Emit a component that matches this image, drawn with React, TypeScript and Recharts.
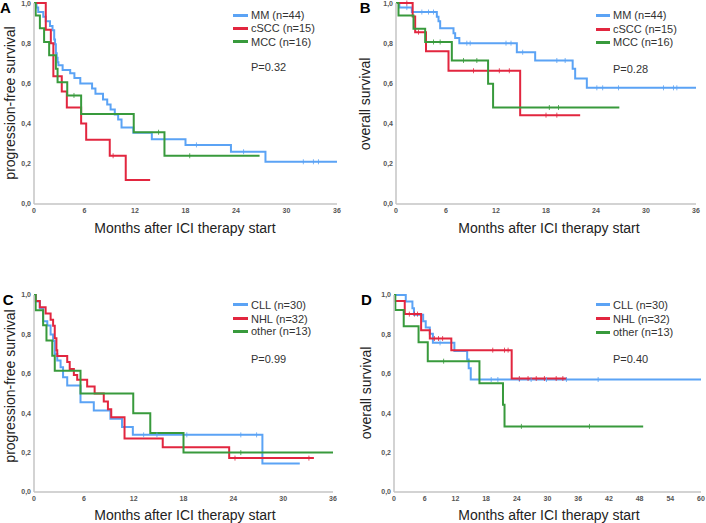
import React from 'react';
import { ComposedChart, Line, Scatter, XAxis, YAxis, Label, Legend } from 'recharts';

const FONT = '"Liberation Sans", Arial, sans-serif';
const BLUE = '#5ba3f5';
const RED = '#e2263f';
const GREEN = '#389a3c';

const xTicks36 = [0, 6, 12, 18, 24, 30, 36];
const xTicks60 = [0, 6, 12, 18, 24, 30, 36, 42, 48, 54, 60];
const yTicks = [0, 0.2, 0.4, 0.6, 0.8, 1.0];

// A: progression-free survival, melanoma / cSCC / MCC
const mmPfsT = [0, 0.3, 0.5, 1.1, 1.4, 1.9, 2.2, 2.4, 2.5, 2.6, 2.7, 2.8, 2.9, 3.4, 4.3, 4.8, 5.5, 6.9, 7.3, 8.2, 8.7, 9.1, 9.6, 10.0, 10.4, 11.8, 14.0, 18.0, 23.4, 27.5, 36];
const mmPfsS = [1, 0.977, 0.955, 0.932, 0.909, 0.886, 0.864, 0.818, 0.795, 0.75, 0.727, 0.705, 0.69, 0.667, 0.65, 0.627, 0.6, 0.575, 0.548, 0.52, 0.495, 0.47, 0.445, 0.42, 0.38, 0.355, 0.322, 0.294, 0.26, 0.21, 0.21];
const mmPfsCens = [19.3, 24.9, 32.0, 33.2, 33.8];
const csccPfsT = [0, 1.4, 2.0, 2.3, 3.3, 3.9, 5.6, 6.2, 9.0, 10.9, 13.8];
const csccPfsS = [1, 0.867, 0.8, 0.635, 0.56, 0.48, 0.4, 0.32, 0.24, 0.12, 0.12];
const csccPfsCens = [9.4];
const mccPfsT = [0, 0.2, 0.7, 1.2, 1.8, 2.6, 2.8, 3.95, 5.6, 11.85, 15.5, 26.8];
const mccPfsS = [1, 0.938, 0.875, 0.806, 0.74, 0.673, 0.606, 0.54, 0.448, 0.357, 0.24, 0.24];
const mccPfsCens = [4.75, 14.8, 18.5];

// B: overall survival, melanoma / cSCC / MCC
const mmOsT = [0, 0.4, 1.9, 4.9, 5.1, 5.3, 6.9, 7.1, 7.6, 14.5, 16.7, 21.2, 21.5, 22.9, 36];
const mmOsS = [1, 0.977, 0.955, 0.932, 0.909, 0.875, 0.85, 0.826, 0.8, 0.755, 0.714, 0.673, 0.625, 0.578, 0.578];
const mmOsCens = [1.3, 3.1, 3.9, 4.5, 8.5, 8.9, 13.2, 13.8, 15.2, 19.3, 20.3, 24.1, 24.8, 26.7, 32.1, 33.3, 33.7];
const csccOsT = [0, 2.0, 2.3, 3.6, 6.3, 14.9, 22.1];
const csccOsS = [1, 0.933, 0.855, 0.76, 0.663, 0.442, 0.442];
const csccOsCens = [1.3, 2.7, 9.3, 12.4, 13.6, 18.0, 19.3];
const mccOsT = [0, 0.3, 2.1, 3.5, 6.7, 11.05, 11.65, 26.8];
const mccOsS = [1, 0.938, 0.872, 0.806, 0.714, 0.598, 0.48, 0.48];
const mccOsCens = [4.5, 5.3, 8.1, 9.7, 18.4, 19.5];

// C: progression-free survival, CLL / NHL / other
const cllPfsT = [0, 0.2, 0.7, 1.1, 1.6, 2.0, 2.3, 2.5, 2.8, 3.2, 3.5, 4.0, 5.6, 7.2, 9.2, 10.6, 11.9, 27.5, 32];
const cllPfsS = [1, 0.967, 0.933, 0.867, 0.845, 0.8, 0.767, 0.7, 0.667, 0.633, 0.583, 0.54, 0.456, 0.414, 0.372, 0.33, 0.29, 0.145, 0.145];
const cllPfsCens = [13.2, 14.8, 18.4, 24.9, 26.8];
const nhlPfsT = [0, 0.2, 0.7, 1.4, 2.0, 2.3, 2.5, 2.7, 2.8, 4.0, 4.3, 4.8, 5.2, 6.4, 7.3, 8.4, 8.9, 9.3, 10.9, 15.5, 23.5, 33.7];
const nhlPfsS = [1, 0.969, 0.938, 0.906, 0.875, 0.844, 0.781, 0.719, 0.69, 0.66, 0.625, 0.594, 0.57, 0.535, 0.5, 0.46, 0.42, 0.38, 0.272, 0.227, 0.172, 0.172];
const nhlPfsCens = [24.2, 33.1];
const otherPfsT = [0, 0.2, 1.1, 1.5, 2.2, 2.5, 5.6, 11.95, 14.0, 18.0, 36];
const otherPfsS = [1, 0.923, 0.846, 0.769, 0.692, 0.615, 0.5, 0.4, 0.3, 0.2, 0.2];
const otherPfsCens = [24.9];

// D: overall survival, CLL / NHL / other
const cllOsT = [0, 2.3, 3.6, 3.9, 5.7, 6.2, 7.0, 7.6, 11.8, 14.3, 14.6, 15.0, 60];
const cllOsS = [1, 0.967, 0.933, 0.9, 0.867, 0.835, 0.803, 0.757, 0.716, 0.672, 0.628, 0.571, 0.571];
const cllOsCens = [9.0, 19.0, 20.3, 24.5, 26.8, 29.8, 33.7, 39.9];
const nhlOsT = [0, 0.1, 2.1, 5.3, 7.0, 11.2, 23.0, 33.8];
const nhlOsS = [1, 0.969, 0.903, 0.821, 0.779, 0.72, 0.576, 0.576];
const nhlOsCens = [3.0, 4.0, 4.6, 7.9, 8.7, 9.5, 19.3, 21.6, 22.3, 24.5, 26.2, 27.8, 29.4, 31.7, 33.0];
const otherOsT = [0, 0.26, 1.9, 4.8, 6.6, 16.7, 21.3, 21.6, 48.7];
const otherOsS = [1, 0.924, 0.841, 0.76, 0.664, 0.552, 0.443, 0.333, 0.333];
const otherOsCens = [9.7, 24.9, 38.2];

interface Curve {
  name: string;
  color: string;
  t: number[];
  s: number[];
  cens: number[];
}

// survival value at a censoring time (last step at or before it)
const survAt = (c: Curve, time: number) => {
  let v = c.s[0];
  c.t.forEach((x, i) => {
    if (x <= time) v = c.s[i];
  });
  return v;
};

const fmtY = (v: number) => v.toFixed(1).replace('.', ',');

interface PanelProps {
  left: number;
  top: number;
  width: number;
  height: number;
  plotLeft: number;
  plotTop: number;
  plotRight: number;
  plotBottom: number;
  xMax: number;
  xTicks: number[];
  curves: Curve[];
  letter: string;
  letterPos: [number, number];
  yTitle: string;
  yTitlePos: [number, number];
  xTitlePos: [number, number];
  legendX: number;
  legendRows: number[];
  legendLineW: number;
  legendTextDx: number;
  pText: string;
  pY: number;
}

const Panel: React.FC<PanelProps> = (p) => {
  const xAxisH = 20;
  const margin = {
    top: p.plotTop,
    right: p.width - p.plotRight,
    bottom: p.height - p.plotBottom - xAxisH,
    left: 0,
  };

  const legendBox = () => (
    <div style={{ position: 'relative', width: 120, height: 110, fontFamily: FONT, fontSize: 11, color: '#333' }}>
      {p.curves.map((c, i) => (
        <React.Fragment key={c.name}>
          <div style={{ position: 'absolute', left: 0, top: p.legendRows[i] - 1.5, width: p.legendLineW, height: 3, background: c.color }} />
          <div style={{ position: 'absolute', left: p.legendTextDx, top: p.legendRows[i] - 7, lineHeight: '14px', whiteSpace: 'nowrap' }}>
            {c.name}
          </div>
        </React.Fragment>
      ))}
      <div style={{ position: 'absolute', left: p.legendTextDx, top: p.pY - 7, lineHeight: '14px', whiteSpace: 'nowrap' }}>
        {p.pText}
      </div>
    </div>
  );

  return (
    <div style={{ position: 'absolute', left: p.left, top: p.top }}>
      <ComposedChart width={p.width} height={p.height} margin={margin}>
        <XAxis
          type="number"
          dataKey="t"
          domain={[0, p.xMax]}
          ticks={p.xTicks}
          interval={0}
          allowDataOverflow
          height={xAxisH}
          axisLine={{ stroke: '#c4c4c4', strokeWidth: 1.5 }}
          tickLine={false}
          tickSize={2}
          tickMargin={2}
          tick={{ fontSize: 7, fontWeight: 700, fill: '#555', fontFamily: FONT }}
        >
          <Label
            content={() => (
              <text x={p.xTitlePos[0]} y={p.xTitlePos[1]} textAnchor="middle" fontSize={14} fill="#222" fontFamily={FONT}>
                Months after ICI therapy start
              </text>
            )}
          />
        </XAxis>
        <YAxis
          type="number"
          domain={[0, 1]}
          ticks={yTicks}
          interval={0}
          width={p.plotLeft}
          axisLine={{ stroke: '#c4c4c4', strokeWidth: 1.5 }}
          tickLine={false}
          tickSize={1}
          tickMargin={2}
          tickFormatter={fmtY}
          tick={{ fontSize: 7, fontWeight: 700, fill: '#555', fontFamily: FONT }}
        >
          <Label
            content={() => (
              <g>
                <text
                  x={p.yTitlePos[0]}
                  y={p.yTitlePos[1]}
                  transform={`rotate(-90, ${p.yTitlePos[0]}, ${p.yTitlePos[1]})`}
                  textAnchor="middle"
                  fontSize={14}
                  fill="#222"
                  fontFamily={FONT}
                >
                  {p.yTitle}
                </text>
                <text x={p.letterPos[0]} y={p.letterPos[1]} fontSize={15} fontWeight={700} fill="#000" fontFamily={FONT}>
                  {p.letter}
                </text>
              </g>
            )}
          />
        </YAxis>
        <Legend
          layout="horizontal"
          verticalAlign="middle"
          align="center"
          content={legendBox}
          wrapperStyle={{ left: p.legendX, top: 0, width: 120, height: 110 }}
        />
        {p.curves.map((c) => (
          <Line
            key={c.name}
            data={c.t.map((x, i) => ({ t: x, s: c.s[i] }))}
            dataKey="s"
            name={c.name}
            type="stepAfter"
            stroke={c.color}
            strokeWidth={2}
            dot={false}
            activeDot={false}
            isAnimationActive={false}
          />
        ))}
        {p.curves.map((c) => (
          <Scatter
            key={c.name + '-cens'}
            data={c.cens.map((x) => ({ t: x, s: survAt(c, x) }))}
            dataKey="s"
            legendType="none"
            isAnimationActive={false}
            shape={(sp: any) => (
              <line x1={sp.cx} x2={sp.cx} y1={sp.cy - 2.5} y2={sp.cy + 2.5} stroke={c.color} strokeWidth={1} opacity={0.8} />
            )}
          />
        ))}
      </ComposedChart>
    </div>
  );
};

const skinCurves = (pfs: boolean): Curve[] => [
  { name: 'MM (n=44)', color: BLUE, t: pfs ? mmPfsT : mmOsT, s: pfs ? mmPfsS : mmOsS, cens: pfs ? mmPfsCens : mmOsCens },
  { name: 'cSCC (n=15)', color: RED, t: pfs ? csccPfsT : csccOsT, s: pfs ? csccPfsS : csccOsS, cens: pfs ? csccPfsCens : csccOsCens },
  { name: 'MCC (n=16)', color: GREEN, t: pfs ? mccPfsT : mccOsT, s: pfs ? mccPfsS : mccOsS, cens: pfs ? mccPfsCens : mccOsCens },
];

const hemeCurves = (pfs: boolean): Curve[] => [
  { name: 'CLL (n=30)', color: BLUE, t: pfs ? cllPfsT : cllOsT, s: pfs ? cllPfsS : cllOsS, cens: pfs ? cllPfsCens : cllOsCens },
  { name: 'NHL (n=32)', color: RED, t: pfs ? nhlPfsT : nhlOsT, s: pfs ? nhlPfsS : nhlOsS, cens: pfs ? nhlPfsCens : nhlOsCens },
  { name: 'other (n=13)', color: GREEN, t: pfs ? otherPfsT : otherOsT, s: pfs ? otherPfsS : otherOsS, cens: pfs ? otherPfsCens : otherOsCens },
];

export default function App() {
  return (
    <div style={{ position: 'absolute', left: 0, top: 0, width: 706, height: 523, background: '#fff', overflow: 'hidden' }}>
      <Panel
        left={0} top={0} width={353} height={262}
        plotLeft={34} plotTop={3} plotRight={337} plotBottom={204}
        xMax={36} xTicks={xTicks36} curves={skinCurves(true)}
        letter="A" letterPos={[0, 12.7]}
        yTitle="progression-free survival" yTitlePos={[15, 103]}
        xTitlePos={[185, 232.7]}
        legendX={232.7} legendRows={[15, 28.3, 41.7]} legendLineW={15.6} legendTextDx={18.3}
        pText="P=0.32" pY={66.7}
      />
      <Panel
        left={353} top={0} width={353} height={262}
        plotLeft={43} plotTop={3} plotRight={343} plotBottom={204}
        xMax={36} xTicks={xTicks36} curves={skinCurves(false)}
        letter="B" letterPos={[6.7, 12.7]}
        yTitle="overall survival" yTitlePos={[17, 104]}
        xTitlePos={[196, 232.7]}
        legendX={242.7} legendRows={[15, 29, 42.3]} legendLineW={14} legendTextDx={17.3}
        pText="P=0.28" pY={69}
      />
      <Panel
        left={0} top={262} width={353} height={261}
        plotLeft={34} plotTop={33} plotRight={333} plotBottom={230}
        xMax={36} xTicks={xTicks36} curves={hemeCurves(true)}
        letter="C" letterPos={[2.7, 42.7]}
        yTitle="progression-free survival" yTitlePos={[15, 124]}
        xTitlePos={[185, 257.5]}
        legendX={232.7} legendRows={[42.7, 56.7, 69.3]} legendLineW={15.6} legendTextDx={18.3}
        pText="P=0.99" pY={96.7}
      />
      <Panel
        left={353} top={262} width={353} height={261}
        plotLeft={41} plotTop={33} plotRight={348} plotBottom={230}
        xMax={60} xTicks={xTicks60} curves={hemeCurves(false)}
        letter="D" letterPos={[8, 42.7]}
        yTitle="overall survival" yTitlePos={[18, 131]}
        xTitlePos={[196, 257.5]}
        legendX={242.7} legendRows={[42.7, 56.7, 70]} legendLineW={14} legendTextDx={17.3}
        pText="P=0.40" pY={96.7}
      />
    </div>
  );
}
